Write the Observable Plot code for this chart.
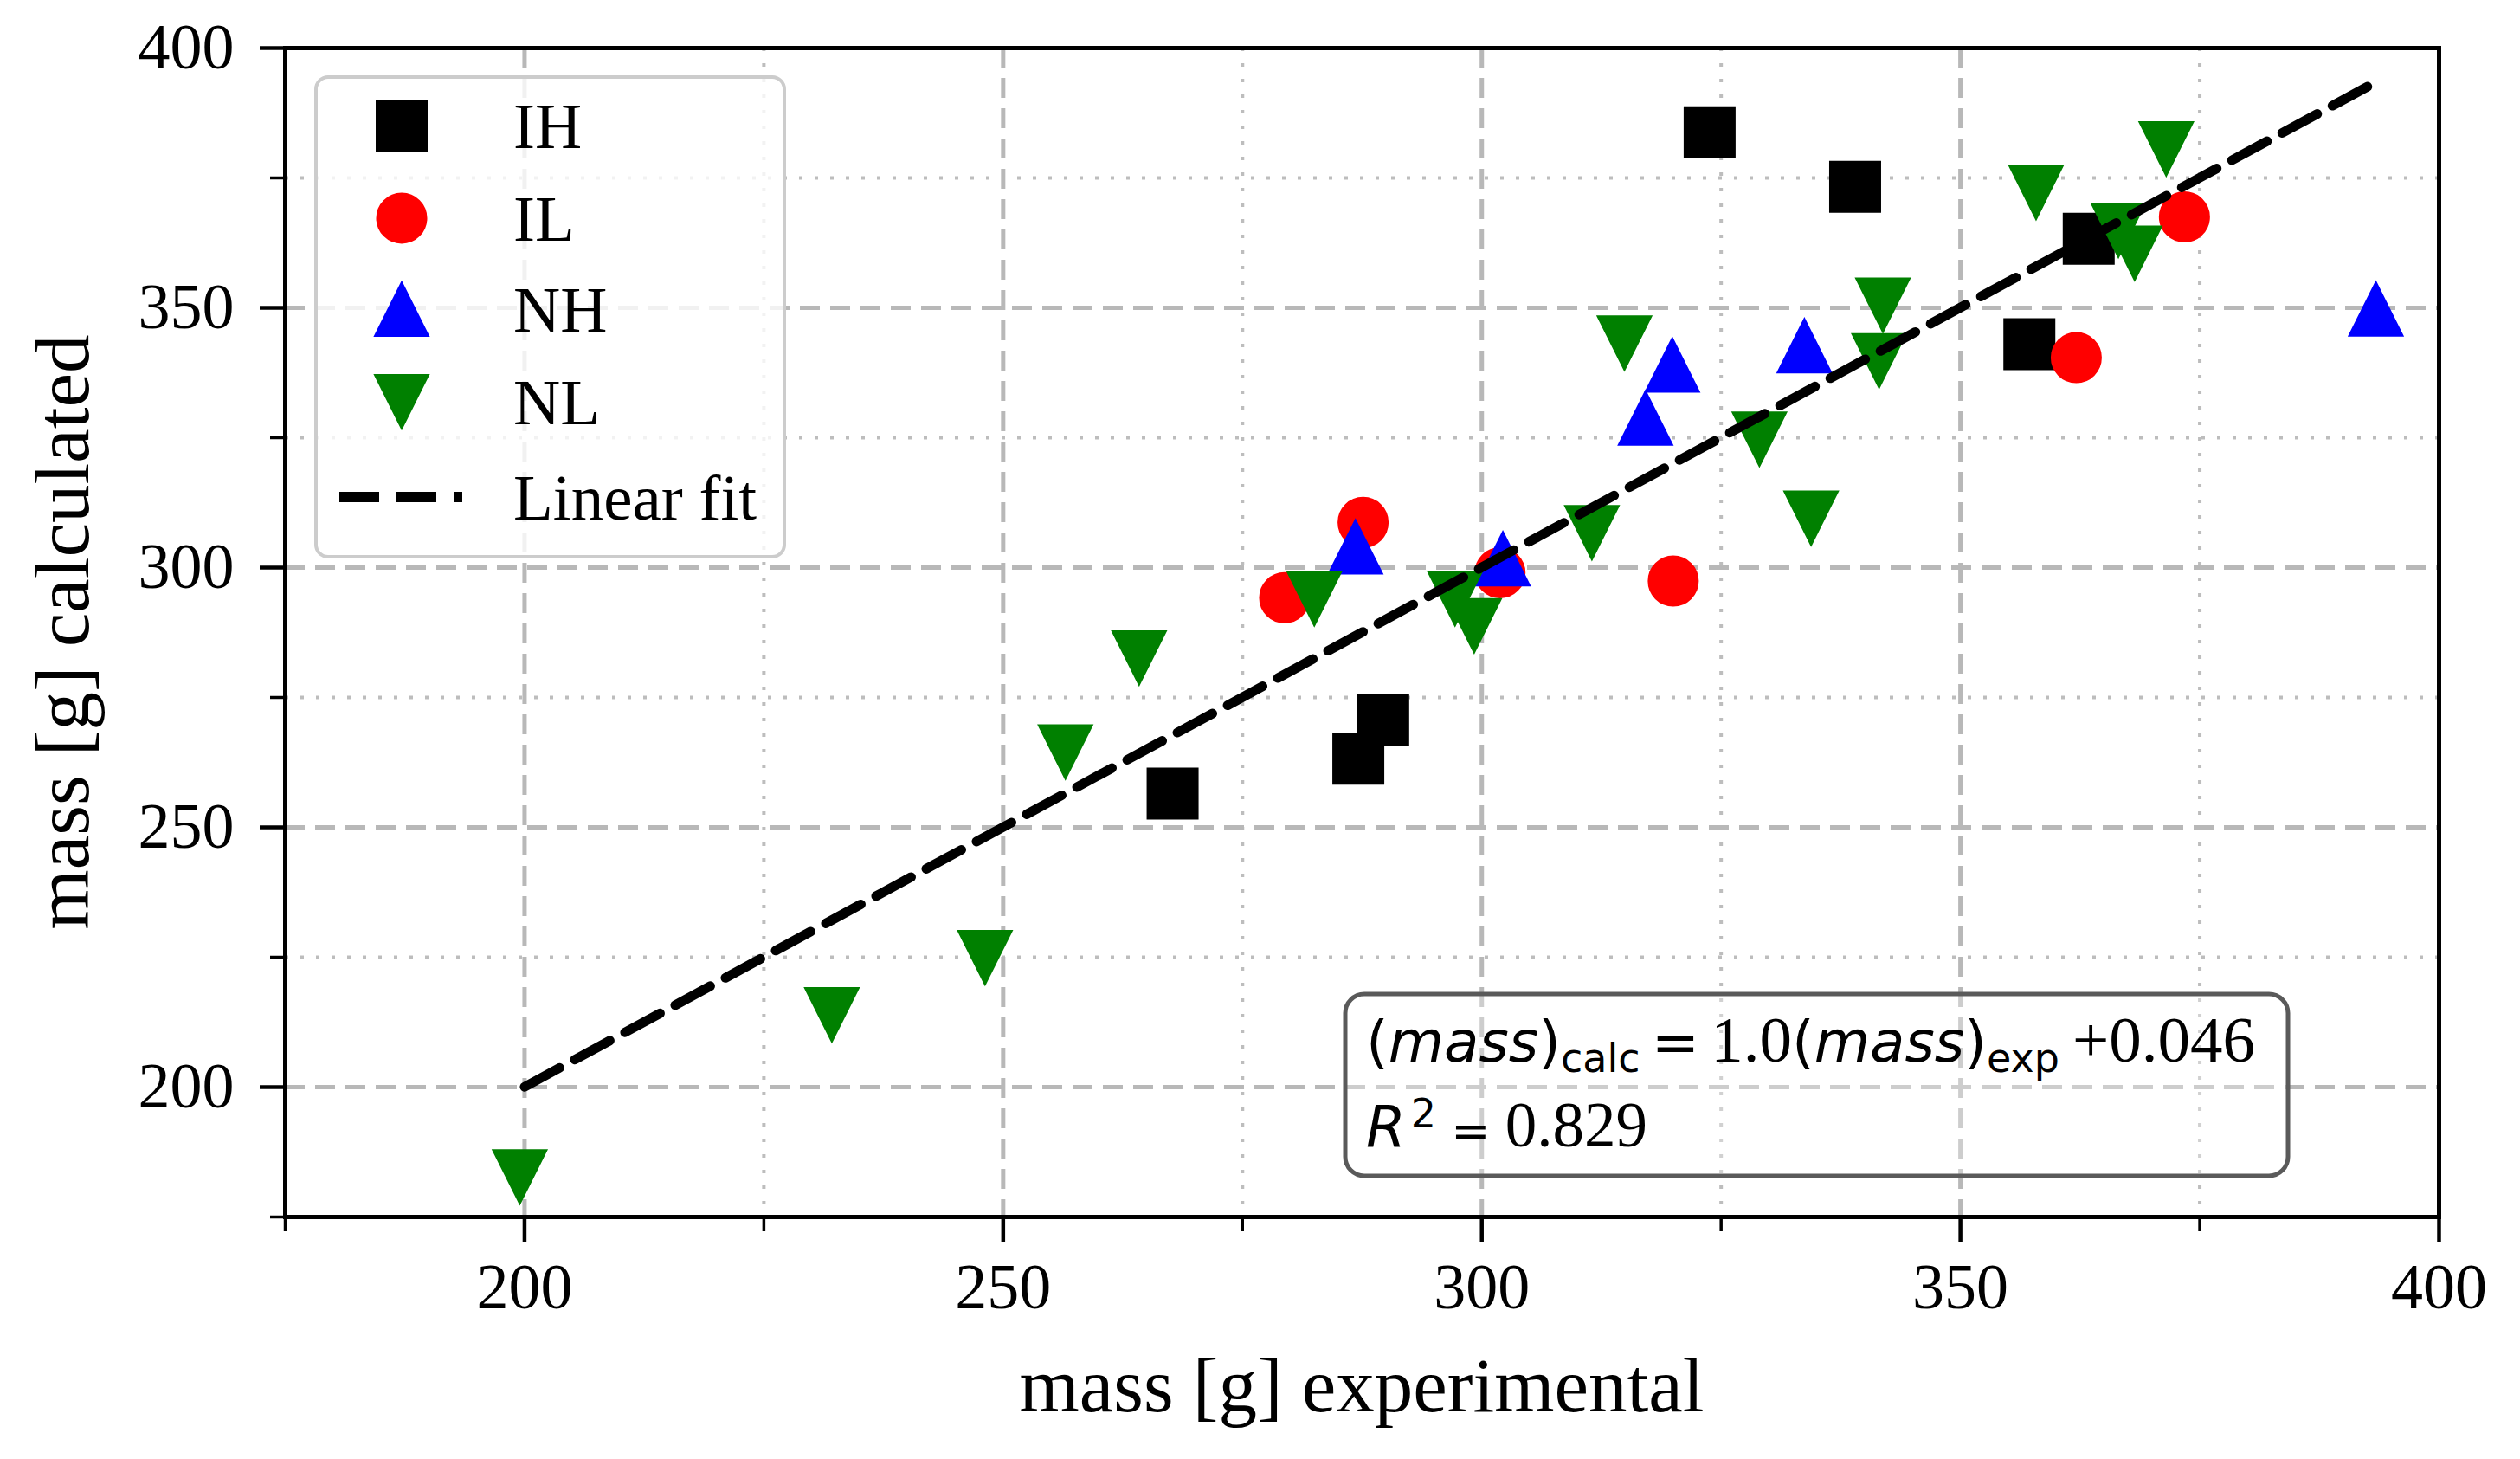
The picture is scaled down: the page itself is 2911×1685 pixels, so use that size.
<!DOCTYPE html>
<html>
<head>
<meta charset="utf-8">
<script src="https://cdn.jsdelivr.net/npm/d3@7"></script>
<script src="https://cdn.jsdelivr.net/npm/@observablehq/plot@0.6"></script>
<style>
  html, body { margin: 0; padding: 0; background: white; }
  #chart { width: 2911px; height: 1685px; }
</style>
</head>
<body>
<div id="chart"></div>
<script>
// ---- data ----
const seriesNames = ["IH", "IL", "NH", "NL"];
const seriesColors = ["#000000", "#ff0000", "#0000ff", "#008000"];

const ihX = [323.8, 339.0, 363.4, 357.2, 267.7, 287.1, 289.7];
const ihY = [383.8, 373.3, 363.3, 343.0, 256.5, 263.2, 270.7];

const ilX = [373.4, 362.1, 320.0, 287.6, 279.4, 301.9];
const ilY = [367.5, 340.4, 297.4, 308.7, 294.2, 299.0];

const nhX = [393.4, 333.7, 319.9, 317.1, 286.8, 302.2];
const nhY = [349.8, 342.7, 339.0, 328.8, 304.0, 301.7];

const nlX = [371.5, 357.9, 366.5, 368.2, 341.9, 341.5, 314.9, 329.0, 334.4, 311.5, 282.5, 297.2, 299.2, 264.2, 256.5, 248.1, 232.1, 199.5];
const nlY = [380.6, 372.2, 364.9, 360.5, 350.5, 339.8, 343.2, 324.7, 309.5, 306.7, 294.0, 294.0, 288.8, 282.6, 264.5, 224.9, 213.9, 182.7];

const fitX = [200, 393];
const fitY = [200.046, 393.046];

const xMajorTicks = [200, 250, 300, 350, 400];
const xMinorTicks = [175, 225, 275, 325, 375];
const yMajorTicks = [200, 250, 300, 350, 400];
const yMinorTicks = [175, 225, 275, 325, 375];

const xLabel = "mass [g] experimental";
const yLabel = "mass [g] calculated";
const fitLabel = "Linear fit";

// ---- symbols (matplotlib-like markers) ----
const symSquare = {draw(ctx, size) { const h = Math.sqrt(size / Math.PI); ctx.rect(-h, -h, 2 * h, 2 * h); }};
const symCircle = {draw(ctx, size) { const h = Math.sqrt(size / Math.PI); ctx.moveTo(h, 0); ctx.arc(0, 0, h, 0, 2 * Math.PI); }};
const symTriUp = {draw(ctx, size) { const h = Math.sqrt(size / Math.PI); ctx.moveTo(0, -h); ctx.lineTo(h, h); ctx.lineTo(-h, h); ctx.closePath(); }};
const symTriDown = {draw(ctx, size) { const h = Math.sqrt(size / Math.PI); ctx.moveTo(0, h); ctx.lineTo(h, -h); ctx.lineTo(-h, -h); ctx.closePath(); }};
const symbols = [symSquare, symCircle, symTriUp, symTriDown];
const radii = [29, 28.5, 31, 31];

const toRows = (xs, ys) => xs.map((x, i) => ({x, y: ys[i]}));
const seriesData = [toRows(ihX, ihY), toRows(ilX, ilY), toRows(nhX, nhY), toRows(nlX, nlY)];
const fitRows = toRows(fitX, fitY);

const serif = "'Liberation Serif', 'DejaVu Serif', serif";
const sans = "'DejaVu Sans', sans-serif";

const gridMajor = {stroke: "#b8b8b8", strokeOpacity: 1, strokeWidth: 5, strokeDasharray: "23,12"};
const gridMinor = {stroke: "#bdbdbd", strokeOpacity: 1, strokeWidth: 4, strokeDasharray: "4,14"};

const plot = Plot.plot({
  width: 2911,
  height: 1685,
  marginLeft: 329,
  marginRight: 94,
  marginTop: 55,
  marginBottom: 280,
  x: {domain: [175, 400]},
  y: {domain: [175, 400]},
  style: {fontFamily: serif, fontSize: "74px", background: "white", color: "black", overflow: "visible"},
  marks: [
    Plot.gridX(xMinorTicks.filter(d => d !== 175), gridMinor),
    Plot.gridY(yMinorTicks.filter(d => d !== 175), gridMinor),
    Plot.gridX(xMajorTicks, gridMajor),
    Plot.gridY(yMajorTicks, gridMajor),
    ...seriesData.map((rows, i) => Plot.dot(rows, {
      x: "x", y: "y", symbol: symbols[i], r: radii[i],
      fill: seriesColors[i], stroke: seriesColors[i], strokeWidth: 2
    })),
    Plot.line(fitRows, {x: "x", y: "y", stroke: "black", strokeWidth: 11, strokeDasharray: "46,20"}),
    Plot.frame({stroke: "black", strokeWidth: 5}),
    Plot.axisX(xMajorTicks, {tickSize: 29, tickPadding: 24, strokeWidth: 4.5, fontSize: 74, label: null}),
    Plot.axisX(xMinorTicks, {tickSize: 17, strokeWidth: 3.5, tickFormat: () => "", label: null}),
    Plot.axisY(yMajorTicks, {tickSize: 29, tickPadding: 30, strokeWidth: 4.5, fontSize: 74, label: null}),
    Plot.axisY(yMinorTicks, {tickSize: 17, strokeWidth: 3.5, tickFormat: () => "", label: null})
  ]
});

document.getElementById("chart").appendChild(plot);

// ---- axis titles, legend and annotation box ----
const svg = d3.select(plot);

svg.append("text")
  .attr("x", 1573).attr("y", 1630)
  .attr("text-anchor", "middle")
  .style("font-family", serif).style("font-size", "89px")
  .text(xLabel);

svg.append("text")
  .attr("transform", "translate(102,730) rotate(-90)")
  .attr("text-anchor", "middle")
  .style("font-family", serif).style("font-size", "89px")
  .text(yLabel);

// legend
const lg = svg.append("g").attr("text-anchor", "start");
lg.append("rect")
  .attr("x", 365).attr("y", 89).attr("width", 541).attr("height", 554).attr("rx", 14)
  .attr("fill", "white").attr("fill-opacity", 0.8)
  .attr("stroke", "#cccccc").attr("stroke-width", 4);
const rowY = [145, 252, 357, 464, 574];
seriesNames.forEach((name, i) => {
  lg.append("path")
    .attr("transform", `translate(464,${rowY[i]})`)
    .attr("d", d3.symbol(symbols[i], Math.PI * radii[i] * radii[i])())
    .attr("fill", seriesColors[i]).attr("stroke", seriesColors[i]).attr("stroke-width", 2);
  lg.append("text")
    .attr("x", 593).attr("y", rowY[i]).attr("dy", "0.35em")
    .attr("text-anchor", "start")
    .style("font-family", serif).style("font-size", "75px")
    .text(name);
});
lg.append("line")
  .attr("x1", 392).attr("x2", 534).attr("y1", rowY[4]).attr("y2", rowY[4])
  .attr("stroke", "black").attr("stroke-width", 12).attr("stroke-dasharray", "46,20");
lg.append("text")
  .attr("x", 593).attr("y", rowY[4]).attr("dy", "0.35em")
  .attr("text-anchor", "start")
  .style("font-family", serif).style("font-size", "75px")
  .text(fitLabel);

// annotation
const an = svg.append("g").attr("text-anchor", "start");
an.append("rect")
  .attr("x", 1554).attr("y", 1148).attr("width", 1089).attr("height", 210).attr("rx", 22)
  .attr("fill", "white").attr("fill-opacity", 0.3)
  .attr("stroke", "#5a5a5a").attr("stroke-width", 5);

const SANS = 66, SERIF = 75, SUB = 46;
const l1 = an.append("text").attr("x", 1578).attr("y", 1226).attr("text-anchor", "start");
const parts1 = [
  ["(", sans, "normal", 0], ["mass", sans, "italic", 0], [")", sans, "normal", 0],
  ["calc", sans, "normal", 1], ["\u2009=\u2009", sans, "normal", -1],
  ["1.0", serif, "normal", 0], ["(", sans, "normal", 0], ["mass", sans, "italic", 0], [")", sans, "normal", 0],
  ["exp", sans, "normal", 1], ["\u2009+0.046", serif, "normal", -1]
];
let shift = 0;
parts1.forEach(([t, f, st, sub]) => {
  const ts = l1.append("tspan").text(t).style("font-family", f).style("font-style", st);
  let size = f === serif ? SERIF : SANS;
  if (sub === 1) { size = SUB; ts.attr("dy", 12 - shift); shift = 12; }
  else if (sub === -1 || shift !== 0) { ts.attr("dy", -shift); shift = 0; }
  ts.style("font-size", size + "px");
});

const l2 = an.append("text").attr("x", 1578).attr("y", 1324).attr("text-anchor", "start");
l2.append("tspan").text("R").style("font-family", sans).style("font-style", "italic").style("font-size", SANS + "px");
l2.append("tspan").text("2").style("font-family", sans).style("font-size", SUB + "px").attr("dx", 6).attr("dy", -22);
l2.append("tspan").text(" = ").style("font-family", sans).style("font-size", (SANS - 12) + "px").attr("dy", 22);
l2.append("tspan").text("0.829").style("font-family", serif).style("font-size", (SERIF - 2) + "px");
</script>
</body>
</html>
